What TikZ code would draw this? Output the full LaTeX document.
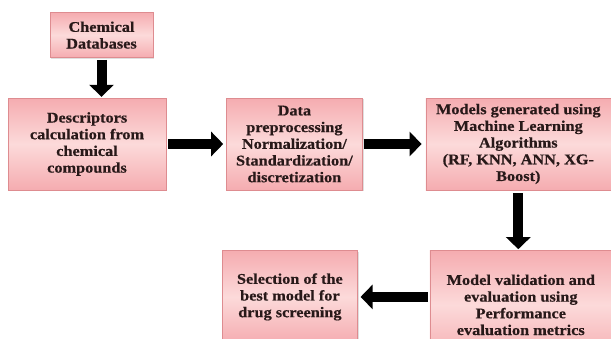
\documentclass[tikz,border=0pt]{standalone}
\usepackage{fontspec}
\setmainfont{Liberation Serif}[FakeStretch=1.1, BoldFeatures={FakeBold=0.5}]
\usepackage{xcolor}
\usepackage{tikz}
\usetikzlibrary{arrows.meta, positioning, shadows}
\definecolor{stageedge}{RGB}{222,140,144}
\definecolor{stagedeep}{RGB}{245,172,176}
\definecolor{stagelight}{RGB}{252,218,218}
\definecolor{stagetext}{RGB}{40,25,25}

\begin{document}
\begin{tikzpicture}[
    x=1pt, y=-1pt,
    stage/.style={rectangle, draw=stageedge, thin, top color=stagedeep, bottom color=stagedeep, middle color=stagelight,
        drop shadow={opacity=0.25, shadow xshift=1.2pt, shadow yshift=-1.2pt},
        align=center, inner sep=2pt, text=stagetext, font=\fontsize{14.8}{16.7}\selectfont\bfseries},
    blockarrow/.style={line width=10pt, -{Triangle[length=12pt, width=24pt]}, black}
]
\useasboundingbox (0,0) rectangle (611,338);

% first row
\node[stage, minimum width=158pt, minimum height=92pt] (desc) at (87,144) {Descriptors\\calculation from\\chemical\\compounds};
\node[stage, minimum width=103pt, minimum height=45pt, above=40pt of desc, xshift=14.5pt] (db) {Chemical\\Databases};
\node[stage, minimum width=136pt, minimum height=92pt, right=60pt of desc] (prep) {Data\\preprocessing\\Normalization/\\Standardization/\\discretization};
\node[stage, minimum width=185pt, minimum height=92pt, right=63pt of prep] (models) {Models generated using\\Machine Learning\\Algorithms\\(RF, KNN, ANN, XG-\\Boost)};

% second row
\node[stage, minimum width=182pt, minimum height=109pt, below=60pt of models, xshift=2.5pt] (valid) {Model validation and\\evaluation using\\Performance\\evaluation metrics};
\node[stage, minimum width=135pt, minimum height=93pt, left=72pt of valid.north west, anchor=north east] (select) {Selection of the\\best model for\\drug screening};

% arrows
\draw[blockarrow, shorten <=2pt, shorten >=1pt] (db) -- (db |- desc.north);
\draw[blockarrow, shorten <=2pt, shorten >=3pt] (desc) -- (prep);
\draw[blockarrow, shorten <=1pt, shorten >=4pt] (prep) -- (models);
\draw[blockarrow, shorten <=3pt, shorten >=1pt] (models) -- (models |- valid.north);
\draw[blockarrow, shorten <=2pt, shorten >=3pt] (valid.west |- select.east) -- (select.east);

\end{tikzpicture}
\end{document}
